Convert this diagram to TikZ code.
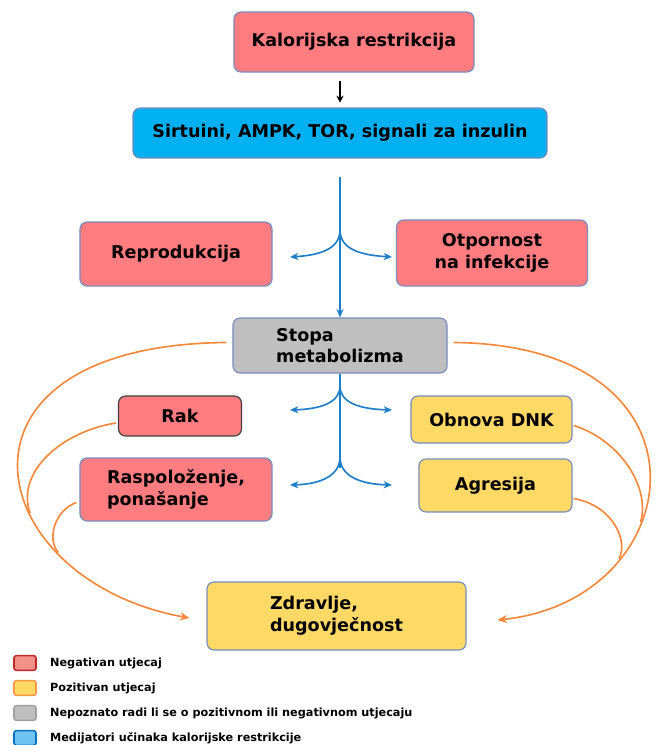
\documentclass[tikz,border=0pt]{standalone}
\usepackage{fontspec}
\setmainfont{DejaVu Sans}
\usetikzlibrary{arrows.meta,calc,positioning}
\definecolor{negRed}{RGB}{255,124,128}
\definecolor{posYellow}{RGB}{255,217,102}
\definecolor{unkGray}{RGB}{191,191,191}
\definecolor{medBlue}{RGB}{0,176,240}
\definecolor{edgeBlue}{RGB}{120,140,190}
\definecolor{flowBlue}{RGB}{30,126,200}
\definecolor{flowOrange}{RGB}{244,136,60}
\definecolor{legRed}{RGB}{242,145,135}
\definecolor{legRedEdge}{RGB}{192,40,40}
\definecolor{legOrangeEdge}{RGB}{247,150,70}
\definecolor{legGrayEdge}{RGB}{160,160,160}
\definecolor{legBlue}{RGB}{110,195,240}
\definecolor{legBlueEdge}{RGB}{0,112,192}

\begin{document}
\begin{tikzpicture}[x=0.03cm,y=-0.03cm,
    box/.style={draw=edgeBlue,line width=1pt,rounded corners=6pt,
                font=\fontsize{15}{18.5}\selectfont\bfseries,inner sep=3pt},
    blackarrow/.style={black,line width=1.2pt,-{Stealth[length=6pt,width=6pt]}},
    bluearrow/.style={flowBlue,line width=1.4pt,-{Stealth[length=7pt,width=6pt,inset=2pt]}},
    blueline/.style={flowBlue,line width=1.4pt},
    orangearrow/.style={flowOrange,line width=1.4pt,-{Stealth[length=8pt,width=7pt,inset=2.5pt]}},
    orangeline/.style={flowOrange,line width=1.4pt},
    legbox/.style={rounded corners=2pt,line width=1.3pt,minimum width=0.66cm,minimum height=0.44cm,inner sep=0pt},
    legtext/.style={anchor=west,inner sep=1pt,font=\fontsize{9.6}{11}\selectfont\bfseries}
]
\useasboundingbox (0,0) rectangle (657,745);

% boxes
\node[box,fill=negRed,minimum width=7.2cm,minimum height=1.8cm] (kal) at (354,42) {Kalorijska restrikcija};
\node[box,fill=medBlue,minimum width=12.42cm,minimum height=1.5cm] (sirt) at (340,133) {Sirtuini, AMPK, TOR, signali za inzulin};
\node[box,fill=negRed,minimum width=5.76cm,minimum height=1.92cm] (repro) at (176,254) {Reprodukcija};
\node[box,fill=negRed,minimum width=5.73cm,minimum height=1.98cm,align=center] (otp) at (492,253) {Otpornost\\na infekcije};
\node[box,fill=unkGray,minimum width=6.42cm,minimum height=1.65cm,align=left] (stopa) at (340,345.5) {Stopa\\metabolizma};
\node[box,fill=negRed,draw=black!75,minimum width=3.69cm,minimum height=1.2cm] (rak) at (180,416) {Rak};
\node[box,fill=negRed,minimum width=5.76cm,minimum height=1.89cm,align=left] (rasp) at (176,489.5) {Raspoloženje,\\ponašanje};
\node[box,fill=posYellow,minimum width=4.83cm,minimum height=1.41cm] (dnk) at (491.5,419.5) {Obnova DNK};
\node[box,fill=posYellow,minimum width=4.59cm,minimum height=1.59cm] (agr) at (495.5,485.5) {Agresija};
\node[box,fill=posYellow,minimum width=7.77cm,minimum height=2.04cm,align=left] (zdr) at (336.5,616) {Zdravlje,\\dugovječnost};

% mediators
\draw[blackarrow,shorten <=7pt,shorten >=4pt] (kal.south -| sirt.north) -- (sirt.north);
\coordinate (fork1) at (340,230);
\coordinate (fork2) at (340,386);
\coordinate (fork3) at (340,457);
\coordinate (vend) at (340,468);
\draw[bluearrow,shorten <=16pt] (sirt.south) -- (stopa.north);
\draw[bluearrow] (fork1) .. controls ($(fork1)+(0,18)$) and ($(fork1)+(-18,25)$) .. ($(fork1)+(-50,27)$);
\draw[bluearrow] (fork1) .. controls ($(fork1)+(0,18)$) and ($(fork1)+(18,25)$) .. ($(fork1)+(52,27)$);
\draw[blueline] (stopa.south) -- (vend);
\draw[bluearrow] (fork2) .. controls ($(fork2)+(0,16)$) and ($(fork2)+(-18,23)$) .. ($(fork2)+(-50,24)$);
\draw[bluearrow] (fork2) .. controls ($(fork2)+(0,16)$) and ($(fork2)+(18,23)$) .. ($(fork2)+(52,24)$);
\draw[bluearrow] (fork3) .. controls ($(fork3)+(0,18)$) and ($(fork3)+(-18,27)$) .. ($(fork3)+(-50,28)$);
\draw[bluearrow] (fork3) .. controls ($(fork3)+(0,18)$) and ($(fork3)+(18,27)$) .. ($(fork3)+(52,28)$);

% effects on health
\draw[orangearrow] ($(stopa.west)+(-6,-3)$) .. controls (-70,345) and (-20,580) .. ($(zdr.west)+(-17,2)$)
    coordinate[pos=0.62] (jL1) coordinate[pos=0.73] (jL2);
\draw[orangeline] ($(rak.west)+(-2,7)$) .. controls (60,432) and ($(jL1)+(-14,-40)$) .. (jL1);
\draw[orangeline] ($(rasp.west)+(-3,13)$) .. controls (55,510) and ($(jL2)+(-12,-14)$) .. (jL2);
\draw[orangearrow] ($(stopa.east)+(6,-3)$) .. controls (725,345) and (690,600) .. ($(zdr.east)+(31,4)$)
    coordinate[pos=0.62] (jR1) coordinate[pos=0.72] (jR2);
\draw[orangeline] ($(dnk.east)+(1,6)$) .. controls (620,440) and ($(jR1)+(10,-35)$) .. (jR1);
\draw[orangeline] ($(agr.east)+(1,13)$) .. controls (612,505) and ($(jR2)+(10,-18)$) .. (jR2);

% legend
\node[legbox,fill=legRed,draw=legRedEdge] (lneg) at (25,663) {};
\node[legbox,fill=posYellow,draw=legOrangeEdge] (lpos) at (25,688) {};
\node[legbox,fill=unkGray,draw=legGrayEdge] (lunk) at (25,713) {};
\node[legbox,fill=legBlue,draw=legBlueEdge] (lmed) at (25,738) {};
\node[legtext,right=0.36cm of lneg] (tneg) {Negativan utjecaj};
\node[legtext,right=0.36cm of lpos] (tpos) {Pozitivan utjecaj};
\node[legtext,right=0.36cm of lunk] (tunk) {Nepoznato radi li se o pozitivnom ili negativnom utjecaju};
\node[legtext,right=0.36cm of lmed] (tmed) {Medijatori učinaka kalorijske restrikcije};
\end{tikzpicture}
\end{document}
